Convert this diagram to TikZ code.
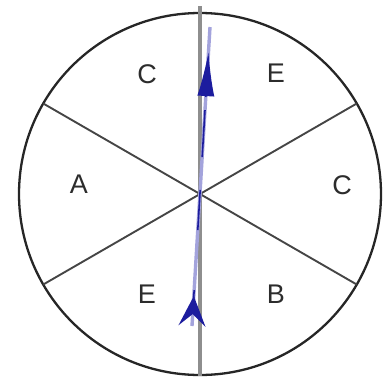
\documentclass[tikz,border=0pt]{standalone}
\usepackage{fontspec}
\setmainfont{Liberation Sans}
\usetikzlibrary{arrows.meta, calc}
\definecolor{cRim}{HTML}{262626}
\definecolor{cSpoke}{HTML}{454545}
\definecolor{cAxis}{HTML}{8E8E8E}
\definecolor{cRay}{HTML}{1C1C9E}
\definecolor{cRayLt}{HTML}{A3A3DC}
\definecolor{cTxt}{HTML}{2C2C2C}
\tikzset{
  rim/.style={
    draw=cRim, line width=2.3pt
  },
  spoke/.style={
    draw=cSpoke, line width=1.9pt
  },
  axisline/.style={
    draw=cAxis, line width=3.6pt
  },
  ray/.style={
    draw=cRayLt, line width=3.4pt
  },
  raycore/.style={
    draw=cRay, line width=1.6pt
  },
  sector/.style={
    font=\fontsize{27}{30}\selectfont,
    text=cTxt, inner sep=0pt
  }
}

\begin{document}
\begin{tikzpicture}[x=1pt, y=-1pt]
\useasboundingbox (0,0) rectangle (384,376);

%% ── Wheel ────────────────────────────────────────────────────────
\coordinate (O) at (200,194);

% rim
\draw[rim] (O) circle[radius=181pt];

% spokes
\draw[spoke] ($(O)+(150:181pt)$) -- ($(O)+(-30:181pt)$);
\draw[spoke] ($(O)+(30:181pt)$) -- ($(O)+(210:181pt)$);

% vertical axis
\coordinate (axtop) at (200,6);
\coordinate (axbot) at (200,376);
\draw[axisline] (axtop) -- (axbot);

%% ── Sector letters ───────────────────────────────────────────────
\node[sector] (topl) at (147,74) {C};
\node[sector] (topr) at (276,73) {E};
\node[sector] (midl) at (79,184) {A};
\node[sector] (midr) at (342,185) {C};
\node[sector] (botl) at (147,294) {E};
\node[sector] (botr) at (276,294) {B};

%% ── Ray ──────────────────────────────────────────────────────────
\coordinate (rb) at (192,326);
\coordinate (rt) at (210,27);

% pale body
\draw[ray] (rb) -- (rt);

% dark parts
\draw[raycore] ($(rb)!0.565!(rt)$) -- ($(rb)!0.722!(rt)$);
\draw[raycore] ($(rb)!0.321!(rt)$) -- ($(rb)!0.455!(rt)$);

% lower arrowhead
\draw[raycore, {Stealth[reversed, length=30pt, width=27pt, inset=12pt]}-]
  (rb) -- ($(rb)!0.12!(rt)$);

% upper arrowhead
\draw[raycore, -{Latex[length=44pt, width=17pt]}]
  ($(rb)!0.766!(rt)$) -- ($(rb)!0.916!(rt)$);

\end{tikzpicture}
\end{document}
